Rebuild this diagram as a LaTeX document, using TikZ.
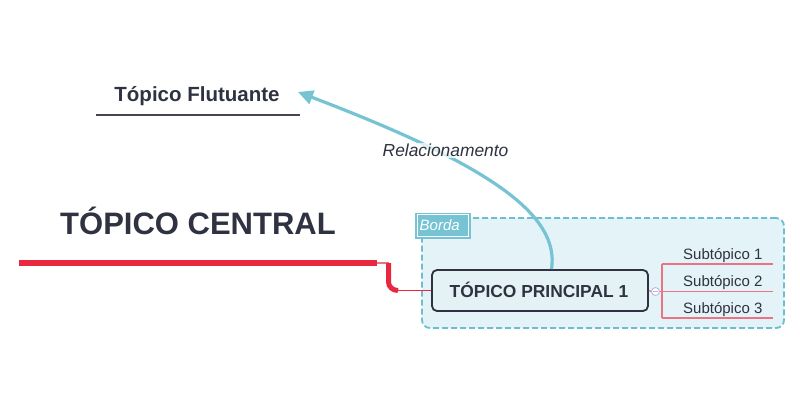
\documentclass[tikz,border=0pt]{standalone}
\usepackage{fontspec}
\setmainfont{Liberation Sans}
\usetikzlibrary{arrows.meta,calc}
\definecolor{txt}{HTML}{2F3240}
\definecolor{cred}{HTML}{E8283F}
\definecolor{pink}{HTML}{EA7483}
\definecolor{teal}{HTML}{76C3D3}
\definecolor{tealdash}{HTML}{6DBFCF}
\definecolor{bfill}{HTML}{E3F3F7}
\definecolor{pfill}{HTML}{E4F1F5}
\definecolor{lav}{HTML}{B8B4E6}
\tikzset{
  sublabel/.style={anchor=base west,inner sep=0,font=\fontsize{15}{15}\selectfont,text=txt},
  subline/.style={draw=pink,line width=1.2},
}
\begin{document}
\begin{tikzpicture}[x=1pt,y=-1pt]
\useasboundingbox (0,0) rectangle (800,400);
% boundary
\node[draw=tealdash,fill=bfill,line width=1.8,dash pattern=on 6pt off 3pt,rounded corners=8,
  minimum width=362,minimum height=110,inner sep=0] (borda) at (603,273) {};
\node[fill=teal,minimum width=56,minimum height=26,inner sep=0] (bordalbl) at (443,225.5) {};
\draw[white,line width=0.8] ($(bordalbl.south west)+(2.5,-2.5)$) rectangle ($(bordalbl.north east)+(-2.5,2.5)$);
\node[anchor=base west,inner sep=0,text=white,font=\fontsize{15}{15}\selectfont\itshape] (bordatxt) at (419.5,230) {Borda};
% central topic
\node[anchor=base,inner sep=0,text=txt,font=\fontsize{31}{31}\selectfont\bfseries] (central) at (198,234) {TÓPICO CENTRAL};
\coordinate (cl) at (19,263);
\coordinate (cr) at (377,263);
\draw[cred,line width=6] (cl) -- (cr);
% main topic
\node[draw=txt,fill=pfill,line width=1.8,rounded corners=5,minimum width=216,minimum height=41,inner sep=0] (principal) at (540,290.5) {};
\node[anchor=base,inner sep=0,text=txt,font=\fontsize{17.4}{17.4}\selectfont\bfseries] (ptxt) at (539,297) {TÓPICO PRINCIPAL 1};
\coordinate (bend) at (388.5,263);
\draw[pink,line width=1.5] (cr) -- (bend);
\draw[cred,line width=5] (bend) -- (388.5,282) to[out=-90,in=180] (398,290.5);
\draw[cred,line width=1.4] (397,290.5) -- (principal.west);
% subtopics
\node[draw=lav,fill=white,circle,minimum size=8,inner sep=0,line width=0.8] (fold) at (655.5,291.5) {};
\draw[lav,line width=0.8] (653.3,291.5) -- (657.7,291.5);
\draw[subline] (principal.east) -- (fold.west);
\coordinate (v1) at (662,264);
\coordinate (v2) at (662,291.5);
\coordinate (v3) at (662,318);
\draw[subline] (fold.east) -- (v2);
\draw[subline] (v1) -- (v3);
\coordinate (e1) at (773,264);
\coordinate (e2) at (773,291.5);
\coordinate (e3) at (773,318);
\draw[subline] (v1) -- (e1);
\draw[subline] (v2) -- (e2);
\draw[subline] (v3) -- (e3);
\node[sublabel] (s1) at (683,259) {Subtópico 1};
\node[sublabel] (s2) at (683,286) {Subtópico 2};
\node[sublabel] (s3) at (683,313) {Subtópico 3};
% floating topic
\node[anchor=base,inner sep=0,text=txt,font=\fontsize{20.5}{20.5}\selectfont\bfseries] (flut) at (197,101) {Tópico Flutuante};
\coordinate (ul) at (96,115);
\coordinate (ur) at (300,115);
\draw[color=txt!90,line width=2] (ul) -- (ur);
% relationship
\coordinate (rs) at ($(principal.north)+(11.5,0)$);
\coordinate (re) at (298,92);
\draw[teal,line width=3.2,-{Triangle[length=15,width=14]}] (rs) .. controls (560,215) and (490,165) .. (re);
\node[anchor=base west,inner sep=1,fill=white,fill opacity=0.75,text opacity=1,text=txt,
  font=\fontsize{17.4}{17.4}\selectfont\itshape] (rel) at (381.5,156.5) {Relacionamento};
\end{tikzpicture}
\end{document}
